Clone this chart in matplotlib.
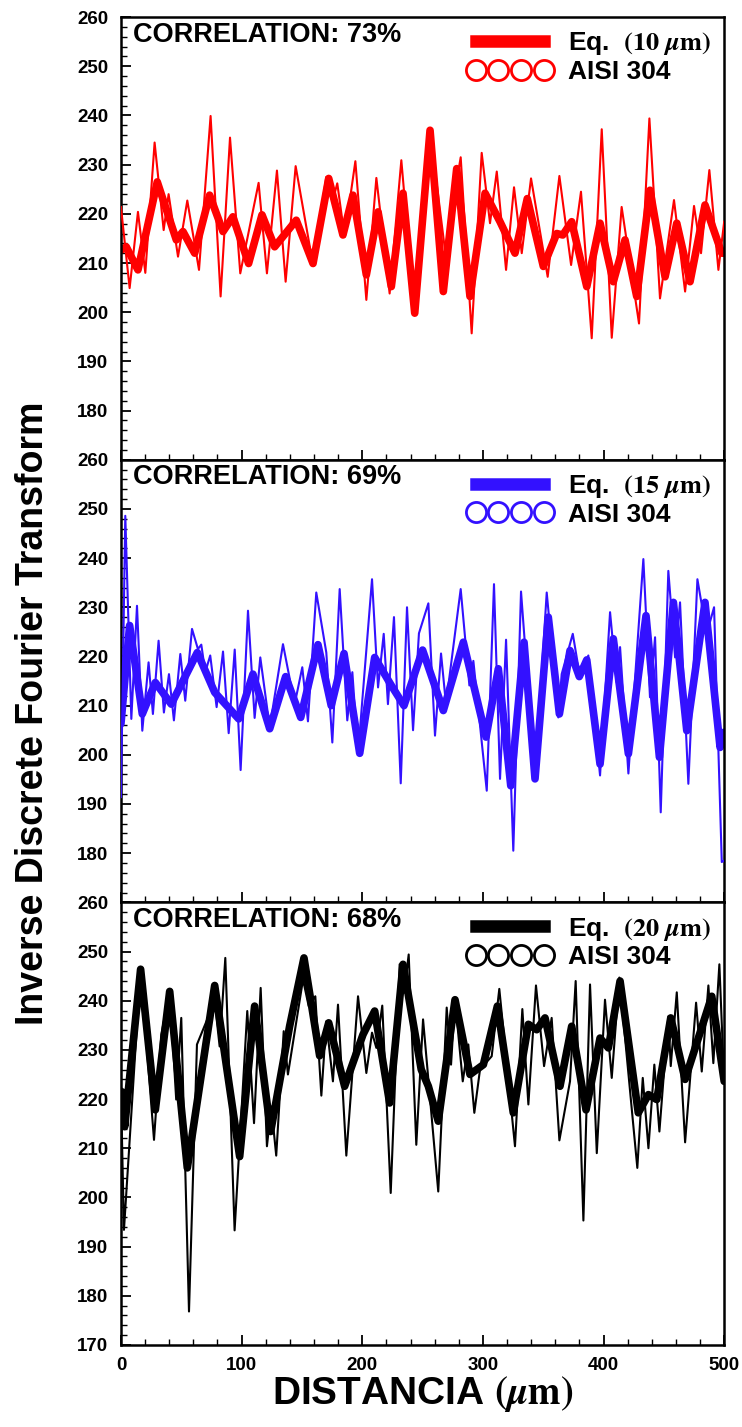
import matplotlib
matplotlib.use("Agg")
import matplotlib.pyplot as plt
from matplotlib.lines import Line2D
from matplotlib.ticker import MultipleLocator

plt.rcParams['font.family'] = ['Liberation Sans', 'DejaVu Sans']
plt.rcParams['font.weight'] = 'bold'
plt.rcParams['mathtext.fontset'] = 'stix'

# ---- panel 1 (10 um, red) ----
eq10_x = [0, 7.2, 14.1, 20.2, 27.9, 35.4, 39.5, 47.3, 55.0, 64.7, 74.3, 82.6, 90.4, 98.9,
          114.1, 121.0, 129.3, 136.5, 144.8, 159.2, 170.2, 175.7, 179.3, 185.4, 194.3,
          203.4, 211.7, 222.7, 232.4, 243.5, 256.2, 268.6, 281.6, 290.7, 299.0, 305.9,
          311.5, 319.2, 325.8, 332.2, 339.9, 353.7, 363.4, 373.1, 381.3, 390.2, 398.5,
          406.8, 415.0, 429.4, 438.0, 446.8, 458.4, 467.6, 475.0, 480.8, 487.7, 495.2, 500]
eq10_y = [221.4, 204.9, 220.4, 208.0, 234.5, 216.7, 224.0, 211.3, 222.7, 208.6, 239.9, 203.2,
          235.5, 207.9, 226.3, 207.9, 228.8, 206.2, 229.7, 209.6, 227.5, 222.8, 226.2, 215.3,
          230.7, 202.5, 227.3, 203.8, 230.9, 199.4, 237.0, 212.6, 231.5, 195.7, 232.4, 218.1,
          228.6, 208.6, 225.4, 212.0, 227.2, 207.2, 227.7, 209.6, 224.5, 194.7, 237.2, 194.8,
          221.4, 197.7, 239.4, 202.8, 222.8, 204.2, 221.6, 212.0, 228.9, 208.6, 218.4]
aisi10_x = [0, 4.4, 14.1, 30.1, 45.9, 51.4, 61.1, 73.5, 84.6, 92.8, 105.8, 116.9, 127.4,
            145.3, 159.2, 172.2, 184.0, 192.3, 203.4, 213.1, 224.1, 233.8, 243.5, 256.2,
            267.2, 278.3, 289.3, 301.8, 314.2, 326.6, 336.8, 350.1, 361.2, 366.2, 373.6,
            386.1, 397.1, 408.1, 417.8, 427.5, 438.5, 451.0, 460.7, 471.7, 484.1, 498.0, 500]
aisi10_y = [212.6, 213.3, 208.6, 226.5, 214.7, 216.4, 212.0, 223.8, 216.4, 219.4, 209.9,
            219.8, 213.3, 218.7, 209.9, 227.2, 215.7, 223.8, 207.6, 220.4, 205.2, 224.2,
            199.8, 237.0, 204.2, 229.2, 203.2, 224.2, 218.4, 212.0, 223.1, 209.3, 216.0,
            215.7, 218.4, 205.2, 218.1, 206.2, 214.7, 203.2, 224.8, 207.2, 218.1, 206.2,
            221.8, 212.0, 212.0]

# ---- panel 2 (15 um, blue) ----
eq15_x = [0, 3.6, 8.6, 13.3, 17.7, 22.9, 26.5, 31.2, 35.6, 39.8, 43.9, 49.2, 53.3, 58.9,
          63.8, 66.6, 69.9, 74.0, 79.3, 84.6, 89.3, 94.3, 99.2, 105.3, 110.8, 115.5, 123.3,
          134.3, 144.0, 150.3, 155.0, 161.9, 170.2, 175.2, 181.3, 187.6, 191.8, 196.5,
          208.1, 213.1, 217.8, 221.3, 226.3, 231.9, 237.1, 242.1, 247.0, 254.8, 260.3,
          265.3, 269.4, 281.6, 288.8, 292.1, 303.2, 309.2, 314.2, 319.2, 325.2, 331.6,
          343.2, 352.9, 362.5, 365.3, 374.5, 380.5, 387.4, 397.1, 405.4, 410.9, 413.7,
          420.6, 433.0, 438.5, 442.7, 447.4, 453.7, 459.3, 463.4, 470.3, 477.8, 485.5,
          491.6, 498.0, 500]
eq15_y = [191.4, 248.6, 207.3, 230.3, 204.9, 218.8, 208.3, 223.2, 208.6, 216.4, 207.0,
          220.5, 211.0, 225.6, 221.5, 222.4, 216.8, 220.2, 209.7, 221.0, 204.4, 221.4,
          196.9, 229.3, 207.5, 219.8, 205.6, 222.5, 210.3, 217.8, 206.8, 233.0, 220.8,
          202.5, 233.7, 207.0, 216.8, 200.2, 235.7, 213.7, 224.6, 210.3, 228.0, 194.2,
          230.0, 205.0, 224.7, 230.8, 203.9, 220.6, 210.3, 233.7, 214.1, 219.1, 192.7,
          234.7, 195.1, 223.4, 180.5, 233.2, 194.8, 233.0, 207.6, 216.4, 224.6, 215.8,
          220.2, 195.8, 229.0, 214.7, 221.9, 196.2, 239.8, 211.7, 223.9, 188.3, 237.4,
          219.8, 231.0, 194.1, 235.7, 224.6, 230.0, 178.2, 178.5]
aisi15_x = [0, 7.2, 17.7, 28.5, 41.7, 63.3, 77.7, 97.6, 109.4, 123.3, 136.5, 149.0, 163.3,
            174.3, 184.9, 197.9, 210.3, 224.1, 234.6, 250.0, 267.2, 283.8, 302.6, 312.8,
            323.1, 334.1, 343.2, 354.2, 363.4, 372.2, 379.9, 386.1, 397.1, 408.1, 420.6,
            435.2, 446.3, 457.9, 469.0, 484.1, 496.6, 500]
aisi15_y = [206.3, 226.3, 208.3, 214.7, 210.3, 220.8, 212.7, 207.3, 216.4, 205.3, 215.9,
            207.6, 222.4, 210.0, 220.6, 200.3, 219.8, 214.1, 210.0, 221.3, 209.0, 222.9,
            203.6, 217.5, 193.7, 222.9, 195.1, 228.0, 208.3, 221.2, 215.9, 219.3, 198.1,
            223.6, 200.2, 228.3, 199.5, 231.0, 204.9, 231.0, 201.5, 204.6]

# ---- panel 3 (20 um, black) ----
eq20_x = [0, 2.5, 16.3, 27.4, 33.4, 40.4, 45.8, 50.0, 56.4, 63.0, 77.7, 81.8, 86.5, 94.2,
          104.7, 110.3, 115.8, 121.0, 124.6, 128.7, 134.9, 138.4, 150.9, 155.6, 161.1,
          166.1, 170.2, 175.7, 179.9, 186.8, 196.5, 203.4, 208.1, 211.7, 216.6, 223.6,
          231.0, 234.6, 238.5, 244.8, 250.4, 263.0, 270.0, 273.6, 276.9, 283.3, 287.9,
          292.9, 297.6, 307.3, 313.6, 326.6, 332.7, 337.7, 344.0, 350.7, 357.0, 363.4,
          372.2, 376.9, 383.3, 388.8, 394.4, 401.2, 406.8, 413.1, 428.0, 432.5, 437.2,
          442.1, 446.3, 453.7, 455.7, 460.7, 467.6, 476.7, 481.4, 486.9, 491.0, 496.0, 500]
eq20_y = [221.6, 193.4, 246.7, 211.7, 233.1, 241.9, 219.9, 236.5, 176.8, 231.1, 239.9,
          230.7, 248.7, 193.3, 237.9, 215.1, 242.6, 210.4, 218.5, 208.5, 233.8, 225.0,
          244.3, 238.9, 240.9, 220.7, 235.8, 223.6, 239.2, 208.5, 240.9, 225.3, 233.5,
          230.4, 239.0, 200.9, 247.4, 241.6, 249.4, 210.7, 236.2, 201.2, 238.6, 227.0,
          240.2, 223.6, 231.1, 217.2, 226.0, 228.7, 242.4, 210.4, 238.3, 218.9, 243.1,
          226.7, 236.5, 211.6, 223.6, 244.0, 195.3, 243.3, 209.0, 240.2, 224.3, 244.7,
          206.0, 224.3, 210.0, 227.0, 213.4, 236.8, 226.7, 241.7, 211.2, 239.6, 225.6,
          243.1, 227.3, 247.4, 223.3]
aisi20_x = [0, 3.1, 16.3, 28.5, 40.4, 55.0, 77.7, 98.4, 110.8, 124.1, 139.8, 151.7, 164.7,
            172.2, 185.4, 200.6, 210.3, 222.7, 233.8, 248.9, 254.8, 263.0, 276.9, 289.3,
            300.4, 312.0, 325.2, 337.7, 344.6, 351.5, 363.9, 373.6, 385.5, 397.1, 404.0,
            413.7, 428.8, 437.2, 444.1, 455.7, 467.6, 489.7, 500]
aisi20_y = [221.6, 214.4, 246.4, 217.8, 241.9, 206.0, 243.1, 208.3, 238.9, 213.4, 234.8,
            248.7, 228.8, 235.5, 222.6, 233.1, 237.9, 219.2, 247.4, 226.0, 222.6, 215.5,
            240.2, 225.0, 227.0, 238.9, 217.2, 235.2, 234.1, 236.5, 222.6, 234.8, 217.8,
            232.4, 230.4, 244.0, 217.2, 220.9, 219.9, 236.5, 224.0, 240.9, 223.6]

panels = [
    dict(eq_x=eq10_x, eq_y=eq10_y, ai_x=aisi10_x, ai_y=aisi10_y, color='#ff0000',
         size='10', corr='73%', ymin=180),
    dict(eq_x=eq15_x, eq_y=eq15_y, ai_x=aisi15_x, ai_y=aisi15_y, color='#3311ff',
         size='15', corr='69%', ymin=180),
    dict(eq_x=eq20_x, eq_y=eq20_y, ai_x=aisi20_x, ai_y=aisi20_y, color='#000000',
         size='20', corr='68%', ymin=170),
]

fig, axes = plt.subplots(3, 1, figsize=(7.42, 14.27), dpi=100, sharex=True)
fig.subplots_adjust(left=0.163, right=0.976, top=0.988, bottom=0.0575, hspace=0)

for ax, p in zip(axes, panels):
    c = p['color']
    # AISI 304 measured profile: dense open circles -> thick band
    ax.plot(p['ai_x'], p['ai_y'], color=c, lw=5.5, solid_joinstyle='round',
            solid_capstyle='round', zorder=2)
    # Eq. profile
    ax.plot(p['eq_x'], p['eq_y'], color=c, lw=1.5, solid_joinstyle='round', zorder=3)

    ax.set_xlim(0, 500)
    ax.set_ylim(170, 260)
    ax.set_yticks(range(p['ymin'], 261, 10))
    ax.xaxis.set_major_locator(MultipleLocator(100))
    ax.xaxis.set_minor_locator(MultipleLocator(20))
    ax.yaxis.set_minor_locator(MultipleLocator(2))
    ax.tick_params(which='both', direction='in', top=False, right=False,
                   labelsize=13.5, pad=9)
    ax.tick_params(which='major', length=7, width=1.3)
    ax.tick_params(which='minor', length=4, width=1.0)
    for s in ax.spines.values():
        s.set_linewidth(1.8)
    for lab in ax.get_xticklabels() + ax.get_yticklabels():
        lab.set_fontweight('bold')

    ax.text(0.02, 0.99, 'CORRELATION: ' + p['corr'], transform=ax.transAxes,
            ha='left', va='top', fontsize=19.5, fontweight='bold')

    h_eq = Line2D([], [], color=c, lw=9)
    h_ai = Line2D([], [], color=c, ls='none', marker='o', markersize=14.5,
                  markerfacecolor='none', markeredgewidth=2)
    ax.legend([h_eq, h_ai],
              [r'Eq.  $\mathbf{(' + p['size'] + r'}\ \mu\mathbf{m)}$', 'AISI 304'],
              loc='upper right', frameon=False, numpoints=4, handlelength=3.2,
              handletextpad=0.6, labelspacing=0.1, borderaxespad=0.1,
              prop={'size': 19, 'weight': 'bold'})

axes[-1].set_xlabel(r'DISTANCIA $(\mu\mathrm{m})$', fontsize=28, fontweight='bold',
                    labelpad=0)
fig.text(0.045, 0.5, 'Inverse Discrete Fourier Transform', rotation=90,
         ha='center', va='center', fontsize=27, fontweight='bold')

fig.savefig('out.png', dpi=100)
